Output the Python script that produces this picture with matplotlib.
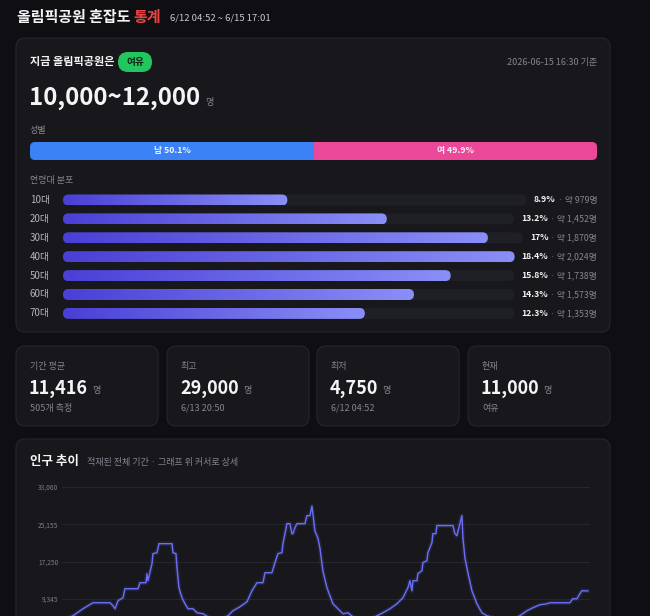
import matplotlib
matplotlib.use('Agg')
import matplotlib.pyplot as plt
from matplotlib.patches import FancyBboxPatch, Rectangle
from matplotlib.colors import LinearSegmentedColormap
import numpy as np

plt.rcParams['font.family'] = ['Noto Sans CJK KR', 'DejaVu Sans']

# ---- data ----
gender_labels = ['남', '여']
gender_pct = [50.1, 49.9]

age_groups = ['10대', '20대', '30대', '40대', '50대', '60대', '70대']
age_pct = [8.9, 13.2, 17, 18.4, 15.8, 14.3, 12.3]
age_count = [979, 1452, 1870, 2024, 1738, 1573, 1353]

stat_titles = ['기간 평균', '최고', '최저', '현재']
stat_values = [11416, 29000, 4750, 11000]
stat_notes = ['505개 측정', '6/13 20:50', '6/12 04:52', '여유']

# hours since 6/12 04:52, people count
hours = [0, 1.76, 3.36, 4.96, 7.68, 8.16, 8.48, 8.96, 9.76, 10.08, 12.16, 12.48, 13.44, 13.6,
         13.76, 14.4, 14.56, 15.2, 15.52, 17.6, 17.76, 18.24, 18.4, 18.72, 19.2, 19.68, 20.16,
         20.96, 21.6, 22.56, 23.36, 24.16, 25.28, 26.56, 27.36, 28.48, 29.6, 30.4, 31.2, 32.16,
         32.48, 33.6, 34.08, 34.56, 35.2, 35.36, 36.0, 36.48, 36.8, 36.96, 37.28, 37.6, 38.88,
         39.2, 39.68, 40.0, 40.16, 40.48, 40.96, 41.28, 41.76, 42.4, 42.88, 43.36, 44.0, 44.96,
         45.76, 46.56, 48.16, 49.76, 51.36, 52.48, 53.6, 54.56, 55.36, 55.68, 56.0, 56.16, 56.8,
         56.96, 57.6, 57.76, 58.4, 58.56, 59.2, 59.36, 59.84, 60.0, 62.56, 62.88, 63.2, 63.52,
         64.0, 64.16, 64.48, 64.96, 65.6, 66.4, 67.2, 68.0, 70.08, 72.16, 73.28, 74.4, 75.36,
         76.48, 77.6, 78.08, 81.28, 81.76, 82.4, 82.88, 83.2, 84.15]
people = [4750, 5730, 7220, 8495, 8500, 7860, 7220, 8920, 9560, 11470, 11470, 12745, 12745, 14660,
          13170, 16780, 18910, 19120, 21030, 21030, 19120, 18910, 15930, 11680, 9560, 8280, 7220,
          7220, 6370, 6160, 5520, 5100, 5000, 5730, 6795, 7645, 8710, 11045, 12745, 12745,
          14870, 14870, 16995, 18910, 19120, 21030, 25280, 25280, 23160, 23160, 24430, 25280, 25280,
          26980, 26980, 29000, 27300, 23700, 22200, 20100, 15200, 11680, 9980, 8280, 7430, 6160,
          6370, 5520, 5000, 5300, 6370, 7220, 8280, 9560, 11680, 13170, 11045, 13170, 13170,
          14660, 15300, 17000, 17420, 19120, 21240, 23160, 23160, 24870, 24870, 23160, 22730, 24430,
          26980, 22310, 18060, 14870, 11045, 8280, 6370, 5730, 5000, 5100, 5730, 6795, 7430,
          8070, 8280, 8495, 8495, 9345, 9345, 10410, 11045, 11000]
y_min = 1440
y_ticks = [9345, 17250, 25155, 33060]

PAGE = '#0f0f13'
CARD = '#17171c'
BORDER = '#25252c'
WHITE = '#f4f4f6'
GRAY = '#85858f'
TRACK = '#1f1f26'

fig = plt.figure(figsize=(6.5, 6.16), dpi=100, facecolor=PAGE)
bg = fig.add_axes([0, 0, 1, 1])
bg.set_xlim(0, 650)
bg.set_ylim(616, 0)
bg.set_autoscale_on(False)
bg.axis('off')
renderer = fig.canvas.get_renderer()


def card(x0, y0, x1, y1, r=9):
    bg.add_patch(FancyBboxPatch((x0, y0), x1 - x0, y1 - y0,
                                boxstyle=f'round,pad=0,rounding_size={r}',
                                fc=CARD, ec=BORDER, lw=0.8, zorder=1))


def pill(x0, y0, w, h, color, r=None, z=2):
    r = h / 2 if r is None else r
    p = FancyBboxPatch((x0, y0), w, h, boxstyle=f'round,pad=0,rounding_size={min(r, w / 2)}',
                       fc=color, ec='none', zorder=z)
    bg.add_patch(p)
    return p


def txt(x, y, s, size, color, weight='normal', ha='left'):
    return bg.text(x, y, s, fontsize=size, color=color, fontweight=weight,
                   ha=ha, va='center', zorder=5)


def left_of(t):
    bb = t.get_window_extent(renderer)
    return bg.transData.inverted().transform((bb.x0, bb.y0))[0]


def right_of(t):
    bb = t.get_window_extent(renderer)
    return bg.transData.inverted().transform((bb.x1, bb.y0))[0]


# ---- header ----
t = txt(17, 17, '올림픽공원 혼잡도', 10.8, WHITE, 'bold')
t = txt(right_of(t) + 3, 17, '통계', 10.8, '#ef4444', 'bold')
txt(right_of(t) + 9, 18, '6/12 04:52 ~ 6/15 17:01', 6.8, '#c9c9d0')

# ---- current status card ----
card(16, 38, 610, 332)
t = txt(30, 62, '지금 올림픽공원은', 8, WHITE, 'bold')
pill(118, 52, 34, 20, '#22c55e')
txt(135, 62, '여유', 7, '#0b2a14', 'bold', ha='center')
txt(597, 62, '2026-06-15 16:30 기준', 6.5, GRAY, ha='right')
t = txt(29, 98, '10,000~12,000', 17.3, WHITE, 'heavy')
txt(right_of(t) + 5, 102, '명', 6.5, GRAY)

txt(30, 130, '성별', 6.5, GRAY)
gx0, gx1, gy, gh = 30, 597, 142, 18
clip = pill(gx0, gy, gx1 - gx0, gh, 'none', r=5)
gcolors = ['#3b82f6', '#ec4899']
start = gx0
for lab, pct, col in zip(gender_labels, gender_pct, gcolors):
    w = (gx1 - gx0) * pct / sum(gender_pct)
    r = Rectangle((start, gy), w, gh, fc=col, ec='none', zorder=2)
    bg.add_patch(r)
    r.set_clip_path(clip)
    txt(start + w / 2, gy + gh / 2, f'{lab} {pct}%', 6.3, WHITE, 'bold', ha='center')
    start += w

txt(30, 181, '연령대 분포', 6.5, GRAY)
cmap = LinearSegmentedColormap.from_list('age', ['#4a3fd6', '#8a8ff7'])
grad = np.linspace(0, 1, 256)[None, :]
bar_x0, bar_h = 63, 11
max_pct = max(age_pct)
for i, (grp, pct, cnt) in enumerate(zip(age_groups, age_pct, age_count)):
    yc = 200 + i * 18.9
    txt(30, yc, grp, 7, '#b4b4bc')
    t2 = txt(597, yc, f' · 약 {cnt:,}명', 6.3, GRAY, ha='right')
    t1 = txt(left_of(t2), yc, f'{pct:g}%', 6.3, WHITE, 'bold', ha='right')
    track_end = left_of(t1) - 7
    pill(bar_x0, yc - bar_h / 2, track_end - bar_x0, bar_h, TRACK)
    w = (track_end - bar_x0) * pct / max_pct
    p = pill(bar_x0, yc - bar_h / 2, w, bar_h, 'none', z=3)
    im = bg.imshow(grad, cmap=cmap, aspect='auto', zorder=3,
                   extent=(bar_x0, bar_x0 + w, yc + bar_h / 2, yc - bar_h / 2))
    im.set_clip_path(p)

# ---- stat cards ----
card_x = [16, 167, 317, 468]
for cx, title, val, note in zip(card_x, stat_titles, stat_values, stat_notes):
    card(cx, 346, cx + 142, 426)
    txt(cx + 14, 366, title, 6.5, GRAY)
    t = txt(cx + 13, 388, f'{val:,}', 13, WHITE, 'heavy')
    txt(right_of(t) + 4, 391, '명', 6.5, GRAY)
    txt(cx + 14, 408, note, 6.5, GRAY)

# ---- trend card ----
card(16, 439, 610, 660)
t = txt(30, 462, '인구 추이', 9, WHITE, 'bold')
txt(right_of(t) + 8, 463, '적재된 전체 기간 · 그래프 위 커서로 상세', 6.5, GRAY)

ax = fig.add_axes([62 / 650, -20 / 616, 528 / 650, 149 / 616])
ax.set_facecolor('none')
ax.plot(hours, people, color='#6b6ff7', lw=3.2, alpha=0.14)
ax.plot(hours, people, color='#6b6ff7', lw=1.0)
ax.set_xlim(0, 84.5)
ax.set_ylim(y_min, y_ticks[-1])
ax.set_yticks(y_ticks)
ax.set_yticklabels([f'{v:,}' for v in y_ticks], fontsize=4.8, color='#7d7d87')
ax.tick_params(axis='y', length=0, pad=2.5)
ax.set_xticks([])
ax.grid(axis='y', color='#26262e', lw=0.8)
ax.set_axisbelow(True)
for s in ax.spines.values():
    s.set_visible(False)

fig.savefig('out.png', dpi=100, facecolor=PAGE)
